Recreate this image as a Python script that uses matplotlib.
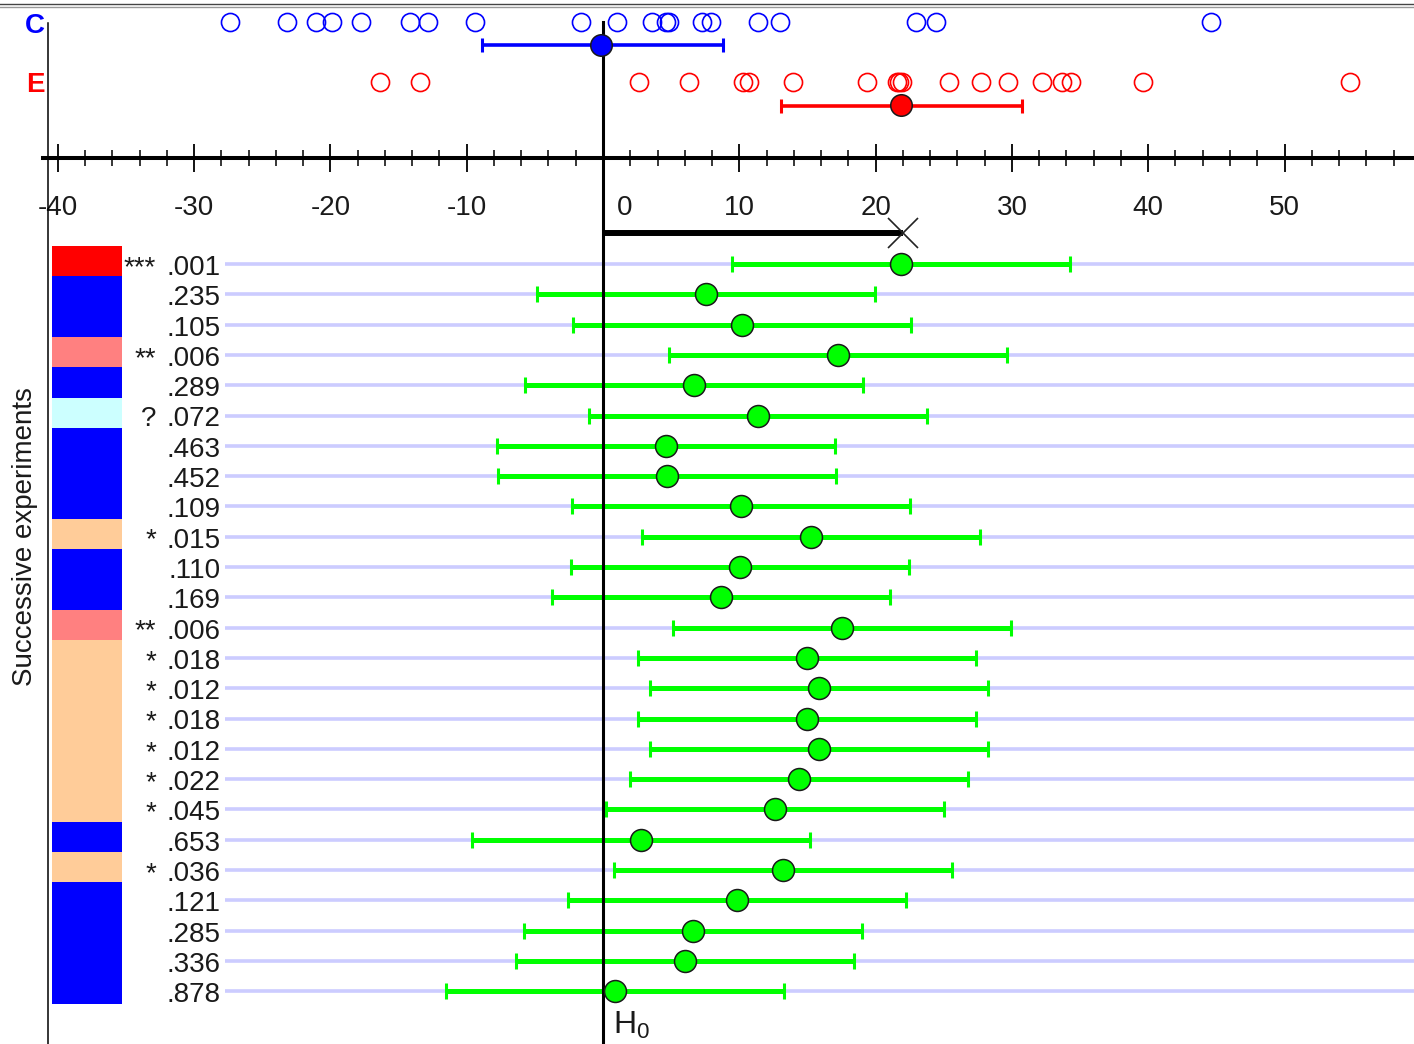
import matplotlib
matplotlib.use("Agg")
import matplotlib.pyplot as plt
from matplotlib.lines import Line2D
from matplotlib.transforms import ScaledTranslation

plt.rcParams['font.family'] = ['Liberation Sans', 'DejaVu Sans']
plt.rcParams['mathtext.fontset'] = 'custom'
plt.rcParams['mathtext.rm'] = 'Liberation Sans'
plt.rcParams['mathtext.it'] = 'Liberation Sans'

# ---------------- data ----------------
c_values = [-27.37, -23.18, -21.06, -19.88, -17.76, -14.16, -12.84, -9.39, -1.65, 1.05,
            3.57, 4.62, 4.84, 7.23, 7.9, 11.39, 12.98, 22.96, 24.43, 44.6]
e_values = [-16.33, -13.46, 2.66, 6.32, 10.29, 10.73, 13.97, 19.4, 21.6, 21.74, 21.9,
            25.4, 27.7, 29.7, 32.2, 33.7, 34.3, 39.6, 54.8]
c_mean, c_ci = -0.15, (-8.85, 8.8)
e_mean, e_ci = 21.86, (13.06, 30.77)
mean_diff = e_mean - c_mean

means = [21.86, 7.54, 10.23, 17.24, 6.66, 11.37, 4.6, 4.7, 10.1, 15.24, 10.05, 8.66,
         17.53, 14.94, 15.83, 14.94, 15.83, 14.36, 12.62, 2.76, 13.24, 9.8, 6.62, 6.0, 0.9]
moe = 12.4
p_labels = ['.001', '.235', '.105', '.006', '.289', '.072', '.463', '.452', '.109', '.015',
            '.110', '.169', '.006', '.018', '.012', '.018', '.012', '.022', '.045', '.653',
            '.036', '.121', '.285', '.336', '.878']
stars = ['***', '', '', '**', '', '?', '', '', '', '*', '', '', '**', '*', '*', '*', '*',
         '*', '*', '', '*', '', '', '', '']
star_colors = {'***': '#FF0000', '**': '#FF8080', '*': '#FFCC99', '?': '#CCFFFF', '': '#0000FF'}

major_ticks = list(range(-40, 51, 10))
minor_ticks = list(range(-40, 59, 2))

# ---------------- figure ----------------
fig = plt.figure(figsize=(14.14, 10.44), dpi=100)
ax = fig.add_axes([0, 0, 1, 1])
ax.set_xlim(-44.24, 59.50)
ax.set_ylim(25.74, -8.713)
ax.patch.set_alpha(0)

txt = '#1a1a1a'
n = len(means)
rows = list(range(n))

# spines: bottom = value axis, left = thin vertical line
for s in ['top', 'right']:
    ax.spines[s].set_visible(False)
ax.spines['bottom'].set_position(('data', -3.5))
ax.spines['bottom'].set_bounds(-41.1, 59.35)
ax.spines['bottom'].set_linewidth(2.9)
ax.spines['left'].set_position(('data', -40.74))
ax.spines['left'].set_bounds(-7.95, 25.74)
ax.spines['left'].set_linewidth(1.1)
ax.set_yticks([])
ax.set_xticks(major_ticks)
ax.set_xticks(minor_ticks, minor=True)
ax.set_xticklabels([str(t) for t in major_ticks])
ax.tick_params(axis='x', which='major', direction='inout', length=20, width=1.3,
               labelsize=20, pad=16.5, labelcolor=txt)
ax.tick_params(axis='x', which='minor', direction='inout', length=11.5, width=1.1)
for lab, t in zip(ax.get_xticklabels(), major_ticks):
    if t == 0:
        lab.set_transform(lab.get_transform() + ScaledTranslation(0.22, 0, fig.dpi_scale_trans))

# top border
fig.add_artist(Line2D([0, 1], [1 - 3.5 / 1044, 1 - 3.5 / 1044], color='#444444', lw=1.0))
fig.add_artist(Line2D([0, 1], [1 - 6.5 / 1044, 1 - 6.5 / 1044], color='#999999', lw=1.0))

# group labels
ax.text(-41.67, -7.85, 'C', color='#0000FF', fontsize=20, fontweight='bold', ha='center', va='center')
ax.text(-41.64, -5.9, 'E', color='#FF0000', fontsize=20, fontweight='bold', ha='center', va='center')

# raw data dots
ax.plot(c_values, [-8.0] * len(c_values), 'o', mfc='none', mec='#0000FF', ms=13, mew=1.2, zorder=3)
ax.plot(e_values, [-6.0] * len(e_values), 'o', mfc='none', mec='#FF0000', ms=13, mew=1.2, zorder=3)

# group means with CIs
ax.errorbar([c_mean], [-7.22], xerr=[[c_mean - c_ci[0]], [c_ci[1] - c_mean]], fmt='none',
            ecolor='#0000FF', elinewidth=2.6, capsize=4.8, capthick=2.2, zorder=3)
ax.errorbar([e_mean], [-5.22], xerr=[[e_mean - e_ci[0]], [e_ci[1] - e_mean]], fmt='none',
            ecolor='#FF0000', elinewidth=2.6, capsize=4.8, capthick=2.2, zorder=3)
ax.plot([c_mean], [-7.22], 'o', ms=15.5, mfc='#0000FF', mec='#1a1a1a', mew=1.1, zorder=6)
ax.plot([e_mean], [-5.25], 'o', ms=15.5, mfc='#FF0000', mec='#1a1a1a', mew=1.1, zorder=6)

# difference bar with X
ax.plot([0, mean_diff], [-1.02, -1.02], color='black', lw=4.3, solid_capstyle='butt', zorder=4)
ax.plot([mean_diff], [-1.02], 'x', color='#222222', ms=21, mew=1.2, zorder=4)

# H0 line
ax.plot([0, 0], [-7.99, 25.74], color='black', lw=2.2, zorder=5)
ax.text(0.7, 25.42, r'H$_{\mathregular{0}}$', fontsize=23, color=txt, ha='left', va='baseline')

# gridlines per experiment
ax.hlines(rows, -27.7, 59.5, color='#CCCCFF', lw=2.6, zorder=1)

# colored significance strip
ax.barh([r - 0.09 for r in rows], [5.11] * n, left=-40.4, height=1.0,
        color=[star_colors[s] for s in stars], edgecolor='none', zorder=2)

# p values and stars
for r, p, s in zip(rows, p_labels, stars):
    ax.text(-28.05, r + 0.36, p, fontsize=20, color=txt, ha='right', va='baseline')
    if s:
        ax.text(-32.8, r + 0.36, s, fontsize=20, color=txt, ha='right', va='baseline')

# experiment CIs
ax.errorbar(means, rows, xerr=moe, fmt='none', ecolor='#00FF00', elinewidth=3.6,
            capsize=5.8, capthick=2.2, zorder=4)
ax.plot(means, rows, 'o', ms=15.8, mfc='#00FF00', mec='#1a1a1a', mew=1.1, zorder=6)

ax.text(-42.4, 9.0, 'Successive experiments', fontsize=20, color=txt, rotation=90,
        ha='center', va='center')

fig.savefig('out.png', dpi=100)
